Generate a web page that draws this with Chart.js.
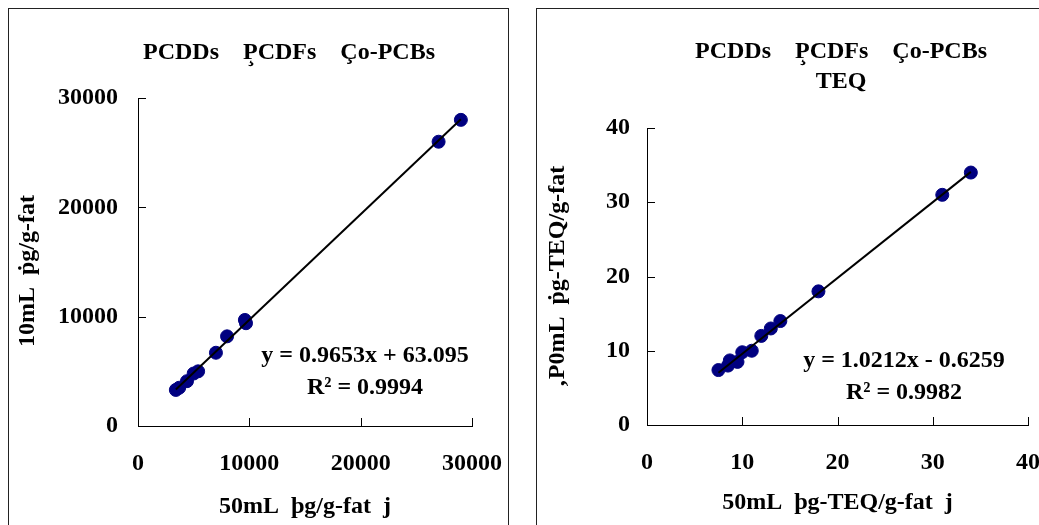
<!DOCTYPE html>
<html>
<head>
<meta charset="utf-8">
<script src="https://cdn.jsdelivr.net/npm/chart.js@4"></script>
<style>
  body { margin: 0; background: #fff; width: 1039px; height: 525px; overflow: hidden; position: relative; }
  .box { position: absolute; border: 1px solid #222; }
  canvas { position: absolute; left: 0; top: 0; }
</style>
</head>
<body>
<div class="box" style="left:8px; top:8px; width:499px; height:540px;">
  <canvas id="left" width="498" height="516"></canvas>
</div>
<div class="box" style="left:536px; top:8px; width:540px; height:540px;">
  <canvas id="right" width="502" height="516"></canvas>
</div>
<script>
// left panel: total concentration
const leftX = [3400, 3700, 4400, 5000, 5400, 7000, 8000, 9600, 9700, 27000, 29000];
const leftY = [3300, 3500, 4100, 4800, 5000, 6700, 8200, 9700, 9400, 26000, 28000];
const leftTicks = [0, 10000, 20000, 30000];
const leftFit = [0.9653, 63.095];
const leftR2 = "0.9994";

// right panel: TEQ
const rightX = [7.5, 8.5, 8.7, 9.5, 10, 11, 12, 13, 14, 18, 31, 34];
const rightY = [7.4, 8.0, 8.7, 8.5, 9.8, 10, 12, 13, 14, 18, 31, 34];
const rightTicks = [0, 10, 20, 30, 40];
const rightFit = [1.0212, -0.6259];
const rightR2 = "0.9982";

const FONT = '"Liberation Serif", "Times New Roman", serif';
const SIZE = 24;

function fitLabel(fit) {
  const sign = fit[1] < 0 ? " - " : " + ";
  return "y = " + fit[0] + "x" + sign + Math.abs(fit[1]);
}

// ticks drawn inward like the original
const innerTicks = {
  id: "innerTicks",
  afterDraw(chart) {
    const ctx = chart.ctx;
    const xs = chart.scales.x, ys = chart.scales.y;
    ctx.save();
    ctx.strokeStyle = "#000";
    ctx.lineWidth = 1;
    ctx.beginPath();
    xs.ticks.forEach(t => {
      const p = Math.round(xs.getPixelForValue(t.value)) + 0.5;
      ctx.moveTo(p, ys.bottom);
      ctx.lineTo(p, ys.bottom - 8);
    });
    ys.ticks.forEach(t => {
      const p = Math.round(ys.getPixelForValue(t.value)) + 0.5;
      ctx.moveTo(xs.left, p);
      ctx.lineTo(xs.left + 8, p);
    });
    ctx.stroke();
    ctx.restore();
  }
};

const texts = {
  id: "texts",
  afterDraw(chart, args, opts) {
    const ctx = chart.ctx;
    ctx.save();
    ctx.font = "bold " + SIZE + "px " + FONT;
    ctx.fillStyle = "#000";
    ctx.textAlign = "center";
    ctx.textBaseline = "middle";
    opts.title.forEach((line, i) => ctx.fillText(line, opts.titleX, opts.titleY + i * 30));
    ctx.fillText(opts.eq, opts.eqX, opts.eqY);
    ctx.fillText("R\u00B2 = " + opts.r2, opts.eqX, opts.eqY + 32);
    ctx.restore();
  }
};

function makeChart(id, xs, ys, ticks, fit, cfg) {
  const pts = xs.map((x, i) => ({ x: x, y: ys[i] }));
  const x0 = Math.min(...xs), x1 = Math.max(...xs);
  const trend = [{ x: x0, y: fit[0] * x0 + fit[1] }, { x: x1, y: fit[0] * x1 + fit[1] }];
  const step = ticks[1] - ticks[0];
  const font = { family: FONT, size: SIZE, weight: "bold" };
  const plain = v => String(v);

  return new Chart(document.getElementById(id), {
    type: "scatter",
    data: {
      datasets: [
        {
          data: pts,
          backgroundColor: "#000080",
          borderColor: "#000080",
          pointRadius: 6.5,
          pointHoverRadius: 6.5,
          order: 1
        },
        {
          type: "line",
          data: trend,
          borderColor: "#000",
          borderWidth: 2,
          pointRadius: 0,
          fill: false,
          order: 0
        }
      ]
    },
    options: {
      responsive: false,
      animation: false,
      events: [],
      layout: { autoPadding: false, padding: { top: cfg.top, right: cfg.right, left: 0, bottom: 0 } },
      plugins: {
        legend: { display: false },
        tooltip: { enabled: false },
        texts: cfg.texts
      },
      scales: {
        x: {
          type: "linear",
          min: ticks[0],
          max: ticks[ticks.length - 1],
          afterFit: s => { s.height = cfg.xh; s.paddingLeft = 0; s.paddingRight = 0; },
          grid: { drawOnChartArea: false, drawTicks: false },
          border: { color: "#000", width: 1 },
          ticks: { stepSize: step, padding: 23, color: "#000", font: font, maxRotation: 0, callback: plain },
          title: { display: true, text: cfg.xTitle, color: "#000", font: font, padding: { top: 0, bottom: cfg.xtp } }
        },
        y: {
          type: "linear",
          min: ticks[0],
          max: ticks[ticks.length - 1],
          afterFit: s => { s.width = cfg.yw; s.paddingTop = 0; s.paddingBottom = 0; },
          grid: { drawOnChartArea: false, drawTicks: false },
          border: { color: "#000", width: 1 },
          ticks: { stepSize: step, padding: cfg.ytp, color: "#000", font: font, callback: plain },
          title: { display: true, text: cfg.yTitle, color: "#000", font: font, padding: { top: cfg.ytt, bottom: 0 } }
        }
      }
    },
    plugins: [innerTicks, texts]
  });
}

makeChart("left", leftX, leftY, leftTicks, leftFit, {
  top: 89, right: 35, xh: 99, yw: 129, ytp: 20, xtp: 4, ytt: 4,
  xTitle: "50mL  \u00FEg/g-fat  j",
  yTitle: "10mL  \u1E57g/g-fat   ",
  texts: {
    title: ["PCDDs    P\u0327CDFs    \u00C7o-PCBs"], titleX: 280, titleY: 44,
    eq: fitLabel(leftFit), r2: leftR2, eqX: 356, eqY: 347
  }
});

makeChart("right", rightX, rightY, rightTicks, rightFit, {
  top: 119, right: 11, xh: 100, yw: 110, ytp: 17, xtp: 8, ytt: 6,
  xTitle: "50mL  \u00FEg-TEQ/g-fat  j",
  yTitle: "\u201AP0mL  \u1E57g-TEQ/g-fat",
  texts: {
    title: ["PCDDs    P\u0327CDFs    \u00C7o-PCBs", "TEQ"], titleX: 304, titleY: 43,
    eq: fitLabel(rightFit), r2: rightR2, eqX: 367, eqY: 352
  }
});
</script>
</body>
</html>
